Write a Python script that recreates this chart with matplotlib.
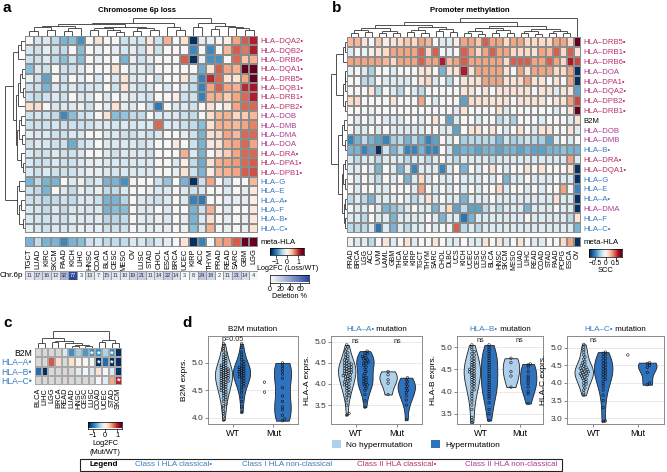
import numpy as np
import matplotlib
matplotlib.use('Agg')
import matplotlib.pyplot as plt
from matplotlib.colors import Normalize, LinearSegmentedColormap
from matplotlib.collections import LineCollection
from matplotlib.patches import Patch, Rectangle

plt.rcParams['font.family'] = ['Liberation Sans', 'DejaVu Sans']

# ---------------- DATA ----------------
# Panel a: Chromosome 6p loss, log2FC (Loss/WT)
cols_a = ["TGCT", "LUAD", "KIRC", "SKCM", "PAAD", "KICH", "LIHC", "HNSC", "COAD", "BLCA", "CESC",
          "MESO", "OV", "LUSC", "STAD", "CHOL", "ESCA", "BRCA", "UCEC", "KIRP", "ACC", "THYM",
          "PRAD", "READ", "SARC", "GBM", "LGG"]
rows_a = ["HLA–DQA2•", "HLA–DQB2•", "HLA–DRB6•", "HLA–DQA1•", "HLA–DRB5•", "HLA–DQB1•", "HLA–DRB1•",
          "HLA–DPB2•", "HLA–DOB", "HLA–DMB", "HLA–DMA", "HLA–DOA", "HLA–DRA•", "HLA–DPA1•", "HLA–DPB1•",
          "HLA–G", "HLA–E", "HLA–A•", "HLA–F", "HLA–B•", "HLA–C•"]
lfc_a = [
    [0, -0.25, -0.2, -0.35, -0.65, -0.6, -0.85, 0, 0.2, 0, 0, -0.3, -0.2, -0.25, 0.15, -0.3, 0.5, 0, 0.2, -1.45, -0.15, -0.1, 0, 0.1, 0.55, 0.85, 1.1],
    [-0.25, -0.3, -0.15, -0.3, -0.35, 0, -0.6, 0, -0.1, 0, -0.15, -0.25, -0.15, -0.3, 0.1, -0.3, 0, 0, 0, -0.9, 0, -0.9, 0, 0.45, 0.85, 0.75, 1.1],
    [-0.3, -0.3, -0.2, -0.35, -0.6, -0.3, -0.6, 0, -0.1, 0, 0, -0.65, -0.1, -0.3, -0.15, 0, 0, 0, 0.85, -1.45, -0.1, -0.85, -0.85, 0, 0.8, 0.4, 0.5],
    [-0.6, -0.2, -0.3, 0, -0.3, -0.3, -0.2, 0, 0, 0, 0.2, 0, -0.2, -0.15, -0.3, 0, 0, 0, 0, 0, -0.7, 0.2, 0.85, 0.55, 0.5, 1.4, 1.5],
    [-0.1, -0.3, -0.75, 0, -0.3, 0, -0.15, 0, -0.2, 0, -0.2, 0.2, -0.2, -0.15, 0, -0.3, 0, 0, 0.2, -0.3, -0.95, 1.05, 0.8, 0.2, 0.2, 0.55, 1.45],
    [-0.3, -0.3, -0.65, -0.2, -0.3, -0.2, -0.3, -0.25, -0.25, 0, -0.3, 0.2, -0.2, -0.3, -0.2, 0, -0.2, 0, -0.2, -0.35, -0.95, 0.55, 0.85, 0.55, 0.5, 1.05, 1.15],
    [-0.3, -0.35, -0.3, -0.2, -0.3, 0, -0.2, -0.2, 0, -0.2, 0, -0.1, -0.2, -0.2, -0.3, 0, 0, 0.1, -0.3, -0.3, -0.95, 0.5, 0.5, 0.35, 0.55, 0.8, 1.1],
    [0.25, 0.25, 0, -0.25, -0.2, -0.2, -0.1, -0.3, 0, -0.15, 0.2, -0.15, -0.2, 0, -0.3, -1.0, 0, -0.2, -0.2, -0.3, 0, 0.2, 0, 0.15, 0.55, 0.8, 0.8],
    [-0.3, -0.25, -0.3, -0.35, -0.9, -0.6, -0.3, -0.25, 0, 0.2, -0.6, -0.55, -0.35, -0.35, 0, -0.2, -0.2, -0.2, -0.3, -0.35, 0, 0.25, 0.45, 0.5, 0.3, 0.35, 0.45],
    [-0.3, -0.3, -0.3, -0.25, -0.3, -0.3, -0.3, -0.3, -0.2, -0.2, -0.25, -0.2, -0.25, -0.2, -0.2, 0.8, -0.2, -0.2, -0.3, -0.35, -0.6, 0.2, 0.5, 0.5, 0.45, 0.55, 0.7],
    [-0.15, -0.2, -0.2, -0.3, -0.3, -0.2, -0.2, 0, 0, -0.2, -0.2, -0.3, -0.3, -0.2, -0.3, -0.2, 0, 0, -0.15, -0.3, -0.65, 0.2, 0.3, 0.55, 0.45, 0.8, 0.8],
    [-0.3, -0.2, -0.25, -0.3, -0.3, -0.7, -0.3, -0.2, 0, -0.2, -0.2, -0.2, -0.2, -0.3, -0.2, 0, 0, 0.15, 0, -0.3, -0.65, 0.15, 0.2, 0.5, 0.55, 0.8, 0.55],
    [-0.2, -0.3, -0.3, -0.2, -0.3, -0.3, -0.2, 0, 0, -0.2, -0.3, -0.2, -0.2, -0.2, -0.3, 0, 0, 0, 0.5, -0.2, -0.65, 0, 0.2, 0.35, 0.55, 0.8, 0.8],
    [-0.2, -0.3, -0.3, -0.2, -0.3, -0.3, -0.2, -0.15, -0.1, -0.2, -0.2, -0.25, -0.2, -0.2, -0.2, 0, 0, -0.2, 0.1, -0.35, -0.7, 0.2, 0.5, 0.55, 0.6, 0.8, 0.85],
    [-0.2, -0.3, -0.2, -0.3, -0.3, -0.3, -0.2, -0.1, -0.1, -0.2, -0.25, -0.2, -0.2, -0.2, -0.2, 0, 0, -0.1, 0.2, -0.3, -0.65, 0.1, 0.45, 0.5, 0.55, 0.85, 0.9],
    [-0.65, -0.35, -0.65, -0.65, 0, -0.2, -0.1, -0.3, -0.2, -0.65, -0.65, -0.85, -0.05, 0, 0, -0.3, -0.55, 0, -0.65, -1.45, -0.3, 0.55, 0, -0.3, 0, 0, 0.45],
    [-0.3, -0.35, -0.65, 0, -0.2, -0.35, -0.1, -0.2, -0.1, -0.35, -0.35, -0.2, 0, 0, -0.1, -0.2, -0.2, 0, -0.2, -0.3, -0.2, 0, 0, -0.2, 0, -0.15, 0.15],
    [-0.3, -0.3, -0.4, -0.35, -0.3, -0.35, -0.2, -0.2, -0.3, -0.65, -0.65, -0.4, 0, -0.2, -0.25, -0.3, -0.2, 0, -0.2, -0.95, -1.0, 0, 0, -0.15, -0.15, -0.15, 0.1],
    [-0.2, -0.25, -0.35, -0.2, -0.35, -0.25, -0.2, -0.25, -0.2, -0.65, -0.6, -0.6, 0, -0.2, -0.2, 0, -0.2, 0, 0, -0.65, -0.3, 0.5, 0, -0.2, 0, 0, 0.15],
    [-0.2, -0.25, -0.3, -0.25, -0.3, -0.2, -0.2, -0.2, -0.15, -0.4, -0.4, -0.35, 0, -0.15, -0.2, -0.1, -0.2, 0, -0.15, -0.65, -0.2, 0.25, 0, -0.15, 0, -0.1, 0.15],
    [-0.15, -0.2, -0.3, -0.2, -0.25, -0.2, -0.1, -0.15, -0.1, -0.3, -0.3, -0.3, 0, -0.1, -0.15, -0.1, -0.15, 0, -0.1, -0.6, -0.2, 0.5, 0, -0.1, 0, -0.1, 0.2],
]
meta_a = [-0.65, -0.35, -0.65, -0.65, -0.9, -0.65, -0.6, -0.3, -0.25, -0.35, -0.35, -0.35, -0.2, -0.25,
          -0.35, -0.2, -0.15, 0, 0.2, -1.45, -0.95, 0, 0.55, 0.6, 0.85, 1.4, 1.45]
chr6p_del = [11, 17, 16, 12, 32, 77, 3, 13, 7, 15, 11, 10, 19, 21, 11, 14, 22, 14, 3, 8, 24, 18, 2, 11, 21, 14, 4]

# Panel b: promoter methylation, SCC
cols_b = ["PRAD", "BRCA", "LGG", "ACC", "UVM", "LAML", "GBM", "THCA", "KIRC", "KIRP", "TGCT", "THYM",
          "SARC", "CHOL", "DLBC", "UCS", "KICH", "UCEC", "CESC", "LUSC", "BLCA", "HNSC", "SKCM", "MESO",
          "LUAD", "LIHC", "READ", "COAD", "STAD", "PAAD", "PCPG", "ESCA", "OV"]
rows_b = ["HLA–DRB5•", "HLA–DRB1•", "HLA–DRB6•", "HLA–DOA", "HLA–DPA1•", "HLA–DQA2•", "HLA–DPB2•",
          "HLA–DRB1•", "B2M", "HLA–DOB", "HLA–DMB", "HLA–B•", "HLA–DRA•", "HLA–DQA1•", "HLA–G", "HLA–E",
          "HLA–A•", "HLA–DMA", "HLA–F", "HLA–C•"]
scc_b = [
    [0.25, 0.25, 0.1, 0, 0.2, 0.05, 0.1, 0.15, 0.2, 0.15, 0.3, 0.25, 0, -0.1, -0.1, 0.05, 0.3, 0.3, 0.2, 0.45, 0.3, 0.3, 0.15, 0.3, 0.3, 0.15, 0.15, 0.15, 0.15, 0.3, 0.3, 0.15, 0.75],
    [-0.1, 0, -0.05, 0.05, 0.1, 0.15, 0.3, 0.3, 0.3, 0.3, 0.45, 0.15, 0.45, 0, -0.05, 0, 0.45, 0.3, 0.15, 0.3, 0.45, 0.3, 0.3, 0.15, 0.15, 0.15, 0.1, 0.3, 0.25, 0.45, 0.15, 0.45, 0.1],
    [0.3, 0.3, 0.3, 0.3, 0.3, 0.25, 0.15, 0.3, 0.3, 0.3, 0.45, 0.3, 0.3, 0.6, 0.25, 0.3, 0.45, 0.3, 0.3, 0.3, 0.3, 0.3, 0.15, 0.45, 0.45, 0.45, 0.3, 0.3, 0.45, 0.3, 0.15, 0.6, 0.5],
    [-0.05, 0, -0.1, -0.25, 0, 0, -0.1, 0, 0, 0, 0.1, 0.1, 0, -0.35, 0.1, 0.1, 0.6, 0.1, 0.3, 0.3, 0.3, 0.3, 0.1, 0, 0.3, 0.1, 0.3, 0.3, 0.3, 0.15, 0.15, 0.3, -0.75],
    [0, 0, -0.2, -0.2, 0, -0.1, -0.1, -0.1, -0.1, 0, 0.1, 0.15, -0.1, 0, -0.2, 0, 0.1, 0.1, 0.1, 0.3, 0.3, 0.3, 0.1, 0.1, 0.15, 0.3, 0.1, 0.1, 0, 0.1, 0, 0.3, -0.75],
    [0, 0, 0, 0.1, -0.2, 0, -0.1, -0.2, 0, -0.1, -0.2, 0, 0, 0, 0, 0, 0.1, 0.1, 0, 0.1, 0, 0.1, 0.1, 0.1, 0.1, 0.1, 0, 0.1, 0.1, -0.1, 0.1, 0.1, -0.4],
    [0.15, 0.15, 0, 0, 0, 0, 0.1, 0, 0, 0, 0.3, 0, -0.1, 0, 0, 0, -0.4, 0.15, 0.1, 0.1, 0.1, 0.1, 0.1, 0, 0.1, 0.1, 0.1, 0.1, 0, 0.1, 0.1, 0.3, 0.5],
    [0, 0, 0, -0.05, 0, 0, 0, 0, 0, 0, 0, 0, 0, 0, 0, -0.1, 0.1, 0, 0, 0, 0, 0.1, -0.1, 0, 0, 0, 0, 0, 0, -0.1, 0, 0.1, 0.75],
    [0, -0.1, 0, -0.1, 0, -0.1, -0.1, -0.1, 0, 0, -0.1, 0, 0.1, 0, -0.4, -0.1, 0, 0, -0.1, 0, 0, -0.2, -0.1, -0.25, 0, 0, 0, -0.1, 0, 0, 0, -0.1, 0.1],
    [0, -0.1, -0.1, 0, -0.1, 0, -0.1, -0.1, -0.1, -0.1, -0.1, 0, 0, -0.1, -0.1, -0.4, 0, 0.1, 0.1, 0, 0.1, 0, -0.1, 0, 0.1, 0, -0.1, 0.1, 0.1, 0, 0, 0.1, -0.1],
    [-0.5, -0.35, -0.2, -0.35, -0.4, -0.5, -0.25, -0.2, -0.35, -0.2, -0.35, -0.5, -0.4, 0, -0.1, 0, -0.25, -0.2, -0.2, -0.2, -0.2, -0.35, -0.15, -0.25, -0.2, -0.15, -0.2, -0.25, -0.4, -0.1, 0, -0.1, 0],
    [-0.35, -0.35, -0.5, -0.4, -0.75, -0.15, -0.35, -0.2, -0.5, -0.5, -0.35, -0.5, -0.5, 0, -0.15, -0.4, -0.35, -0.35, -0.4, -0.35, -0.35, -0.4, -0.35, -0.35, -0.4, -0.35, -0.4, -0.4, -0.35, -0.35, -0.3, -0.35, -0.35],
    [-0.1, -0.2, -0.1, -0.1, -0.2, -0.1, -0.1, -0.1, -0.2, -0.1, -0.1, -0.2, -0.1, 0, -0.1, -0.2, -0.1, -0.1, -0.1, -0.1, -0.2, -0.1, -0.1, -0.1, -0.1, -0.1, -0.1, -0.1, -0.1, -0.1, -0.1, 0.3, -0.1],
    [-0.1, -0.1, 0, -0.1, -0.35, 0, -0.1, -0.35, -0.1, -0.5, -0.1, -0.1, -0.1, -0.5, -0.1, 0, -0.35, 0, -0.1, 0, 0.1, 0, -0.1, 0, 0, 0.1, 0, 0.1, 0, 0, 0, 0.1, -0.75],
    [0, -0.1, 0, -0.1, -0.2, 0, -0.1, 0, -0.35, -0.1, 0.15, -0.1, 0, -0.1, -0.1, 0, -0.1, -0.1, -0.1, 0, -0.1, 0, -0.35, -0.1, -0.1, 0, -0.1, -0.1, -0.1, 0, -0.1, -0.1, -0.75],
    [0, -0.1, 0, 0, -0.1, -0.1, 0, 0, 0, -0.1, 0.3, 0, -0.1, 0, -0.1, 0, -0.1, 0, -0.1, 0, 0, 0.15, -0.1, 0, 0, -0.1, 0, -0.1, 0, 0, 0.3, 0, -0.5],
    [-0.2, -0.1, -0.2, -0.35, -0.1, -0.1, -0.1, 0, -0.1, -0.2, -0.1, 0.1, -0.1, 0, -0.1, -0.1, -0.35, -0.1, -0.1, -0.1, 0, -0.1, -0.1, -0.1, -0.1, -0.1, -0.1, -0.1, -0.1, 0.1, -0.1, -0.1, -0.75],
    [0, -0.1, -0.1, 0, -0.1, -0.35, -0.3, -0.2, -0.1, 0, -0.1, -0.1, -0.35, -0.1, 0.15, -0.4, -0.2, -0.4, -0.4, -0.2, -0.1, -0.2, -0.1, -0.1, -0.1, -0.35, -0.1, -0.1, -0.1, 0, -0.1, -0.1, -0.75],
    [-0.1, -0.1, -0.2, 0, -0.1, -0.1, -0.35, -0.1, -0.1, -0.1, -0.1, 0, -0.1, -0.35, -0.1, -0.1, -0.55, -0.35, -0.1, -0.1, -0.1, -0.1, -0.1, -0.1, -0.1, 0, -0.1, -0.1, -0.1, -0.1, -0.1, -0.2, 0.1],
    [-0.2, -0.2, -0.2, -0.1, -0.55, -0.1, -0.35, -0.1, -0.2, -0.1, -0.1, 0, -0.1, 0, 0, 0.45, -0.2, -0.1, -0.2, -0.1, -0.1, -0.1, -0.1, -0.1, -0.1, -0.1, -0.1, -0.1, -0.1, -0.1, -0.1, -0.1, -0.35],
]
meta_b = [0.05, -0.1, -0.1, -0.2, 0, 0.1, -0.1, 0, 0.1, -0.1, 0, 0, 0.1, 0, -0.1, -0.1, 0, -0.1, -0.1, 0.1,
          0, 0.1, -0.1, 0, 0.1, 0, -0.1, -0.1, 0, 0, 0.15, 0.3, -0.75]

# Panel c: mutation log2FC (Mut/WT)
cols_c = ["BLCA", "LIHC", "LGG", "BRCA", "READ", "LUAD", "HNSC", "CESC", "LUSC", "COAD", "UCEC", "STAD", "SKCM"]
rows_c = ["B2M", "HLA–A•", "HLA–B•", "HLA–C•"]
nan = float('nan')
lfc_c = [
    [nan, nan, nan, nan, -0.2, -0.8, -0.45, -0.75, -0.8, -0.8, -0.4, -0.8, -1.3],
    [nan, nan, 0.8, 0.25, nan, 0.2, 0.05, 0, -0.05, -1.3, -1.0, -1.3, -1.3],
    [-1.0, -1.3, nan, nan, nan, nan, -0.15, 0, -0.2, 0.2, 0, -0.2, -1.3],
    [nan, nan, nan, nan, nan, nan, nan, nan, nan, 0, -0.15, 0.5, 1.0],
]
sig_c = [(0, 8), (0, 9), (0, 11), (1, 9), (1, 11), (3, 12)]  # (row, col) with *

# Dendrograms (nested [left, right, height]; leaves = display index)
tree_a_cols = [[[[[[0, 1, 0.25], [2, 3, 0.3], 0.45], [[4, 5, 0.25], 6, 0.4], 0.55],
                 [[[7, 8, 0.3], [9, [10, 11, 0.2], 0.3], 0.4], [[12, 13, 0.25], [14, 15, 0.3], 0.4], 0.5], 0.65],
                [16, [17, 18, 0.3], 0.5], 0.72],
               [[19, 20, 0.5], [[21, 22, 0.35], [23, [24, [25, 26, 0.3], 0.4], 0.45], 0.55], 0.72], 1.0]
tree_a_rows = [[[[0, 1, 0.2], 2, 0.35],
                [[[[3, 4, 0.15], [5, 6, 0.12], 0.25], 7, 0.35],
                 [[[8, 9, 0.2], [10, 11, 0.15], 0.3], [12, [13, 14, 0.1], 0.2], 0.38], 0.45], 0.6],
               [[15, 16, 0.3], [[17, 18, 0.2], [19, 20, 0.12], 0.28], 0.4], 1.0]
tree_b_cols = [[[[[[0, 1, 0.2], [2, 3, 0.25], 0.35], [[4, 5, 0.2], [6, 7, 0.2], 0.3], 0.45],
                 [[[8, 9, 0.25], [10, 11, 0.2], 0.35], [[12, 13, 0.3], [14, 15, 0.25], 0.4], 0.5], 0.6],
                [[[[16, 17, 0.2], [18, 19, 0.15], 0.3], [[20, 21, 0.2], [22, 23, 0.2], 0.35], 0.45],
                 [[[24, 25, 0.2], [26, 27, 0.15], 0.3], [[28, 29, 0.2], [30, 31, 0.2], 0.3], 0.4], 0.55], 0.75],
               32, 1.0]
tree_b_rows = [[[[0, 1, 0.15], 2, 0.25], [[[3, 4, 0.1], 5, 0.15], [6, 7, 0.12], 0.25], 0.7],
               [[[8, 9, 0.2], [10, 11, 0.15], 0.3],
                [[[12, 13, 0.15], [14, 15, 0.12], 0.25], [[16, 17, 0.15], [18, 19, 0.12], 0.22], 0.35], 0.6], 1.0]
tree_c_cols = [[[0, 1, 0.3], [[2, 3, 0.35], [4, [[5, 6, 0.1], [7, 8, 0.12], 0.15], 0.25], 0.4], 0.6],
               [[9, 10, 0.35], [11, 12, 0.3], 0.45], 1.0]

# Panel d: expression values (log10) per group
b2m_wt_nohyp = [3.96, 4.02, 4.08, 4.12, 4.18, 4.22, 4.25, 4.3, 4.33, 4.36, 4.38, 4.41, 4.43, 4.45, 4.47, 4.49,
                4.5, 4.52, 4.54, 4.55, 4.57, 4.58, 4.6, 4.61, 4.62, 4.64, 4.65, 4.66, 4.67, 4.68, 4.7, 4.71,
                4.72, 4.73, 4.74, 4.75, 4.76, 4.77, 4.78, 4.79, 4.8, 4.81, 4.82, 4.83, 4.84, 4.85, 4.86, 4.87,
                4.88, 4.89, 4.9, 4.91, 4.92, 4.94, 4.95, 4.96, 4.98, 5.0, 5.02, 5.04, 5.06, 5.08, 5.1, 5.12,
                5.15, 5.18, 5.22, 5.26, 5.3, 5.35]
b2m_wt_hyp = [4.1, 4.2, 4.3, 4.38, 4.45, 4.5, 4.55, 4.58, 4.6, 4.63, 4.65, 4.67, 4.7, 4.72, 4.74, 4.75, 4.77,
              4.78, 4.8, 4.81, 4.82, 4.84, 4.85, 4.86, 4.88, 4.89, 4.9, 4.92, 4.93, 4.95, 4.97, 5.0, 5.03,
              5.06, 5.1, 5.15, 5.2, 5.28, 5.35]
b2m_mut_nohyp = [4.47, 4.65]
b2m_mut_hyp = [3.95, 3.98, 4.05, 4.15, 4.2, 4.3, 4.4, 4.55, 4.72, 4.8, 4.85, 4.9, 4.95, 5.0]

a_wt_nohyp = [3.26, 3.3, 3.5, 3.6, 3.68, 3.72, 3.76, 3.8, 3.84, 3.87, 3.9, 3.93, 3.96, 3.98, 4.0, 4.02, 4.05,
              4.07, 4.09, 4.11, 4.13, 4.15, 4.17, 4.19, 4.2, 4.22, 4.24, 4.25, 4.27, 4.28, 4.3, 4.31, 4.33,
              4.34, 4.36, 4.37, 4.39, 4.4, 4.42, 4.44, 4.45, 4.47, 4.49, 4.5, 4.52, 4.55, 4.57, 4.6, 4.63,
              4.66, 4.7, 4.74, 4.78, 4.83, 4.88, 4.93]
a_wt_hyp = [3.45, 3.6, 3.75, 3.85, 3.9, 3.95, 3.98, 4.0, 4.03, 4.06, 4.1, 4.13, 4.16, 4.2, 4.25, 4.3, 4.35,
            4.4, 4.44, 4.48, 4.5, 4.52, 4.55, 4.57, 4.6, 4.62, 4.65, 4.68, 4.72, 4.75, 4.78]
a_mut_nohyp = [3.75, 4.02, 4.1, 4.22, 4.3]
a_mut_hyp = [3.15, 3.5, 3.62, 3.72, 3.8, 3.85, 3.9, 3.95, 4.0, 4.05, 4.1, 4.15]

hb_wt_nohyp = [3.3, 3.35, 3.42, 3.6, 3.7, 3.78, 3.84, 3.9, 3.95, 4.0, 4.04, 4.08, 4.12, 4.15, 4.18, 4.21,
               4.24, 4.27, 4.3, 4.32, 4.35, 4.37, 4.4, 4.42, 4.44, 4.46, 4.48, 4.5, 4.52, 4.55, 4.57, 4.6,
               4.62, 4.65, 4.68, 4.71, 4.74, 4.78, 4.82, 4.86, 4.9, 4.95, 5.0, 5.05]
hb_wt_hyp = [3.35, 3.5, 3.6, 3.75, 3.85, 3.9, 3.95, 4.0, 4.05, 4.1, 4.15, 4.2, 4.25, 4.3, 4.35, 4.4, 4.45,
             4.5, 4.55, 4.6, 4.65, 4.7, 4.75, 4.8, 4.85, 4.9, 4.95, 5.0, 5.05]
hb_mut_nohyp = [4.1, 4.35, 4.45, 4.65, 4.75]
hb_mut_hyp = [3.73, 3.95, 4.0, 4.1, 4.18, 4.25, 4.3, 4.35, 4.45, 4.55, 4.6, 4.62]

hc_wt_nohyp = [3.65, 3.72, 3.8, 3.86, 3.92, 3.97, 4.0, 4.04, 4.08, 4.11, 4.14, 4.17, 4.2, 4.22, 4.24, 4.26,
               4.28, 4.3, 4.32, 4.34, 4.36, 4.38, 4.4, 4.42, 4.45, 4.48, 4.5, 4.54, 4.58, 4.62, 4.68, 4.74,
               4.8, 4.88, 4.95, 5.02, 5.1]
hc_wt_hyp = [2.9, 2.92, 3.3, 3.5, 3.65, 3.8, 3.9, 3.98, 4.05, 4.1, 4.15, 4.2, 4.24, 4.28, 4.32, 4.36, 4.4,
             4.44, 4.48, 4.52, 4.56, 4.6, 4.65, 4.7, 4.75, 4.8, 4.85, 4.88]
hc_mut_nohyp = [4.8]
hc_mut_hyp = [3.95, 4.0, 4.3, 4.45, 4.5, 4.55, 4.58]

groups_x = ["WT", "Mut"]

for M, n in ((lfc_a, len(cols_a)), (scc_b, len(cols_b)), (lfc_c, len(cols_c))):
    for r in M:
        assert len(r) == n, (len(r), n)
assert len(lfc_a) == len(rows_a) and len(scc_b) == len(rows_b)

# ---------------- STYLE / HELPERS ----------------
W, H = 667, 472
fig = plt.figure(figsize=(W / 100, H / 100), dpi=100)

C1 = '#3A7DC2'
C2 = '#B8336A'
C2N = '#AD3A93'
LIGHT = '#AFD0EA'
DARK = '#2F72BE'
EDGE = '#8c8c8c'


def rect(x0, y0, x1, y1):
    return [x0 / W, 1 - y1 / H, (x1 - x0) / W, (y1 - y0) / H]


def label_color(name):
    if name in ('B2M', 'meta-HLA'):
        return 'black'
    base = name.replace('HLA–', '').rstrip('•')
    if base in ('A', 'B', 'C', 'E', 'F', 'G'):
        return C1
    return C2 if name.endswith('•') else C2N


def heat(box, M, cmap, norm, edge=EDGE, lw=0.35):
    ax = fig.add_axes(rect(*box))
    A = np.ma.masked_invalid(np.array(M, dtype=float))
    ax.pcolormesh(A, cmap=cmap, norm=norm, edgecolors=edge, linewidth=lw)
    ax.set_xlim(0, A.shape[1])
    ax.set_ylim(A.shape[0], 0)
    for s in ax.spines.values():
        s.set_visible(False)
    ax.set_xticks([])
    ax.set_yticks([])
    return ax


def right_labels(ax, labels, fs):
    ax.yaxis.tick_right()
    ax.set_yticks(np.arange(len(labels)) + 0.5)
    ax.set_yticklabels(labels, fontsize=fs)
    ax.tick_params(axis='y', length=0, pad=2)
    for t, l in zip(ax.get_yticklabels(), labels):
        t.set_color(label_color(l))


def bottom_labels(ax, labels, fs, pad=1.5):
    ax.set_xticks(np.arange(len(labels)) + 0.5)
    ax.set_xticklabels(labels, fontsize=fs, rotation=90)
    ax.tick_params(axis='x', length=0, pad=pad)


def dendro_segments(node):
    if isinstance(node, int):
        return node + 0.5, 0.0, []
    l, r, h = node
    xl, hl, sl = dendro_segments(l)
    xr, hr, sr = dendro_segments(r)
    segs = sl + sr + [[(xl, hl), (xl, h)], [(xl, h), (xr, h)], [(xr, h), (xr, hr)]]
    return (xl + xr) / 2, h, segs


def dendro(box, tree, n, orient):
    ax = fig.add_axes(rect(*box))
    _, top, segs = dendro_segments(tree)
    if orient == 'top':
        ax.add_collection(LineCollection(segs, colors='#333333', linewidths=0.6))
        ax.set_xlim(0, n)
        ax.set_ylim(0, top * 1.03)
    else:
        segs = [[(h, x) for x, h in s] for s in segs]
        ax.add_collection(LineCollection(segs, colors='#333333', linewidths=0.6))
        ax.set_ylim(n, 0)
        ax.set_xlim(top * 1.03, 0)
    ax.axis('off')
    return ax


def cbar(box, cmap, norm, lo, hi, ticks, labels, fs=5.0):
    ax = fig.add_axes(rect(*box))
    grad = np.linspace(lo, hi, 256)[None, :]
    ax.imshow(grad, extent=[lo, hi, 0, 1], aspect='auto', cmap=cmap, norm=norm)
    ax.set_xlim(lo, hi)
    ax.set_yticks([])
    ax.set_xticks(ticks)
    ax.set_xticklabels(labels, fontsize=fs)
    ax.tick_params(axis='x', length=1.8, width=0.5, pad=0.8)
    for s in ax.spines.values():
        s.set_linewidth(0.5)
    return ax


cmap = plt.get_cmap('RdBu_r').copy()
cmap.set_bad('#D9D9D9')
norm_a = Normalize(-1.4, 1.4)
norm_b = Normalize(-0.75, 0.75)
norm_c = Normalize(-1.3, 1.3)
del_cmap = LinearSegmentedColormap.from_list('del', ['#FFFFFF', '#2A48A0'])
norm_del = Normalize(0, 77)

# ---------------- PANEL A ----------------
fig.text(3 / W, 1 - 12 / H, 'a', fontsize=11, fontweight='bold')
fig.text(137 / W, 1 - 10 / H, 'Chromosome 6p loss', fontsize=5.6, fontweight='bold', ha='center', va='center')
dendro((25, 17, 258, 35.5), tree_a_cols, len(cols_a), 'top')
dendro((4, 36, 25, 233), tree_a_rows, len(rows_a), 'left')
ax = heat((25, 36, 258, 233), lfc_a, cmap, norm_a)
right_labels(ax, rows_a, 5.6)
ax = heat((25, 237, 258, 246.5), [meta_a], cmap, norm_a)
right_labels(ax, ['meta-HLA'], 5.6)
bottom_labels(ax, cols_a, 5.4)
ax = heat((25, 271, 258, 280), [chr6p_del], del_cmap, norm_del, edge='#9a9a9a', lw=0.4)
for i, v in enumerate(chr6p_del):
    ax.text(i + 0.5, 0.55, str(v), ha='center', va='center', fontsize=4.0,
            color='white' if v > 50 else '#333333')
fig.text(23 / W, 1 - 275.5 / H, 'Chr.6p', fontsize=5.8, ha='right', va='center')
cbar((270, 247.5, 304, 255), cmap, norm_a, -1.55, 1.55, [-1, 0, 1], ['−1', '0', '1'])
fig.text(288 / W, 1 - 268.5 / H, 'Log2FC (Loss/WT)', fontsize=5.2, ha='center', va='center')
cbar((270, 274.5, 309, 282.5), del_cmap, norm_del, 0, 77, [0, 20, 40, 60], ['0', '20', '40', '60'])
fig.text(289 / W, 1 - 297 / H, 'Deletion %', fontsize=5.2, ha='center', va='center')

# ---------------- PANEL B ----------------
fig.text(332 / W, 1 - 12 / H, 'b', fontsize=11, fontweight='bold')
fig.text(470 / W, 1 - 10 / H, 'Promoter methylation', fontsize=5.6, fontweight='bold', ha='center', va='center')
dendro((347, 17, 581, 36.5), tree_b_cols, len(cols_b), 'top')
dendro((331, 37, 347, 233), tree_b_rows, len(rows_b), 'left')
ax = heat((347, 37, 581, 233), scc_b, cmap, norm_b)
right_labels(ax, rows_b, 5.6)
ax = heat((347, 237, 581, 246.5), [meta_b], cmap, norm_b)
right_labels(ax, ['meta-HLA'], 5.6)
bottom_labels(ax, cols_b, 5.0)
cbar((589, 249, 622, 256.5), cmap, norm_b, -0.8, 0.8, [-0.5, 0, 0.5], ['−0.5', '0', '0.5'], fs=4.8)
fig.text(605 / W, 1 - 270 / H, 'SCC', fontsize=5.4, ha='center', va='center')

# ---------------- PANEL C ----------------
fig.text(3 / W, 1 - 327 / H, 'c', fontsize=11, fontweight='bold')
dendro((35, 331, 122, 347.5), tree_c_cols, len(cols_c), 'top')
ax = heat((35, 348, 122, 385), lfc_c, cmap, norm_c, edge='#a8a8a8', lw=0.35)
ax.set_yticks(np.arange(len(rows_c)) + 0.5)
ax.set_yticklabels(rows_c, fontsize=6.2)
ax.tick_params(axis='y', length=0, pad=2)
for t, l in zip(ax.get_yticklabels(), rows_c):
    t.set_color(label_color(l))
bottom_labels(ax, cols_c, 5.3, pad=2)
for r, c in sig_c:
    ax.text(c + 0.5, r + 0.62, '*', ha='center', va='center', fontsize=6.5, color='white', fontweight='bold')
cbar((88, 422, 122, 428.5), cmap, norm_c, -1.4, 1.4, [-1, 0, 1], ['−1', '0', '1'], fs=5.2)
fig.text(105 / W, 1 - 443.5 / H, 'Log2FC', fontsize=5.3, ha='center', va='center')
fig.text(105 / W, 1 - 452 / H, '(Mut/WT)', fontsize=5.3, ha='center', va='center')

# ---------------- PANEL D ----------------
fig.text(182 / W, 1 - 327 / H, 'd', fontsize=11, fontweight='bold')
title_groups = []


def swarm_offsets(vals, sx, sy, d=2.3):
    vals = np.asarray(vals, dtype=float)
    order = np.argsort(vals)
    placed = []
    offs = np.zeros(len(vals))
    for i in order:
        yp = vals[i] * sy
        k = 0
        found = None
        while found is None:
            cands = [0.0] if k == 0 else [k * d * 0.5, -k * d * 0.5]
            for cnd in cands:
                if all((cnd - px) ** 2 + (yp - py) ** 2 >= d * d * 0.85 for px, py in placed):
                    found = cnd
                    break
            k += 1
        placed.append((found, yp))
        offs[i] = found / sx
    return offs


def violin_panel(box, data, ylim, yticks, ylabel, title, annots):
    x0, y0, x1, y1 = box
    ax = fig.add_axes(rect(*box))
    pos = [1 - 0.22, 1 + 0.22, 2 - 0.22, 2 + 0.22]
    colors = [LIGHT, DARK, LIGHT, DARK]
    ax.set_xlim(0.4, 2.6)
    ax.set_ylim(*ylim)
    ax.set_axisbelow(True)
    ax.yaxis.grid(True, color='#E6E6E6', lw=0.6)
    sx = (x1 - x0) / 2.2
    sy = (y1 - y0) / (ylim[1] - ylim[0])
    for vals, p, col in zip(data, pos, colors):
        if len(vals) >= 3:
            vp = ax.violinplot([vals], positions=[p], widths=0.42, showextrema=False)
            for b in vp['bodies']:
                b.set_facecolor(col)
                b.set_edgecolor('#222222')
                b.set_linewidth(0.6)
                b.set_alpha(1)
        offs = swarm_offsets(vals, sx, sy)
        ax.scatter(p + offs, vals, s=3.2, facecolors='none', edgecolors='#111111', linewidths=0.4, zorder=3)
    ax.set_xticks([1, 2])
    ax.set_xticklabels(groups_x, fontsize=6.5)
    ax.set_yticks(yticks)
    ax.set_yticklabels(['%.1f' % v for v in yticks], fontsize=6, color='#333333')
    ax.tick_params(length=2, width=0.5, color='#555555', pad=1.5)
    ax.set_ylabel(ylabel, fontsize=6, labelpad=2)
    for s in ax.spines.values():
        s.set_color('#8a8a8a')
        s.set_linewidth(0.7)
    for xv, yv, s in annots:
        ax.text(xv, yv, s, ha='center', va='center', fontsize=5.2, color='#222222')
    arts = [fig.text(0, 1 - 331 / H, t, color=c, fontsize=5.8, ha='left', va='baseline') for t, c in title]
    title_groups.append(((x0 + x1) / 2, arts))
    return ax


violin_panel((208, 336, 298, 424), [b2m_wt_nohyp, b2m_wt_hyp, b2m_mut_nohyp, b2m_mut_hyp],
             (3.89, 5.49), [4.0, 4.5, 5.0], 'B2M exprs.', [('B2M mutation', 'black')], [(1, 5.43, 'p=0.05')])
violin_panel((331, 336, 422, 424), [a_wt_nohyp, a_wt_hyp, a_mut_nohyp, a_mut_hyp],
             (3.05, 5.14), [3.5, 4.0, 4.5, 5.0], 'HLA-A exprs.', [('HLA–A•', C1), (' mutation', 'black')],
             [(1, 5.02, 'ns'), (2, 5.02, 'ns')])
violin_panel((457, 336, 543, 424), [hb_wt_nohyp, hb_wt_hyp, hb_mut_nohyp, hb_mut_hyp],
             (3.27, 5.25), [3.5, 4.0, 4.5, 5.0], 'HLA-B exprs.', [('HLA–B•', C1), (' mutation', 'black')],
             [(1, 5.14, 'ns'), (2, 5.14, 'ns')])
violin_panel((567, 336, 664, 424), [hc_wt_nohyp, hc_wt_hyp, hc_mut_nohyp, hc_mut_hyp],
             (2.83, 5.34), [3.0, 3.5, 4.0, 4.5, 5.0], 'HLA-C exprs.', [('HLA–C•', C1), (' mutation', 'black')],
             [(1, 5.2, 'ns')])

fig.legend(handles=[Patch(facecolor=LIGHT, edgecolor='none', label='No hypermutation'),
                    Patch(facecolor=DARK, edgecolor='none', label='Hypermutation')],
           loc='center', bbox_to_anchor=(416 / W, 1 - 444.5 / H), ncol=2, frameon=False, fontsize=6,
           handlelength=1.1, handleheight=1.1, columnspacing=2.2, handletextpad=0.6)

# ---------------- BOTTOM LEGEND ----------------
fig.add_artist(Rectangle((80 / W, 1 - 471 / H), (562 - 80) / W, 12.5 / H, transform=fig.transFigure,
                         facecolor='white', edgecolor='#222222', linewidth=0.8))
legend_items = [("Legend", 'black', 90, 'bold'), ("Class I HLA classical•", C1, 135, 'normal'),
                ("Class I HLA non-classical", C1, 242, 'normal'), ("Class II HLA classical•", C2, 357, 'normal'),
                ("Class II HLA non-classical", C2N, 465, 'normal')]
for txt, col, xp, fw in legend_items:
    fig.text(xp / W, 1 - 465 / H, txt, color=col, fontsize=5.8, fontweight=fw, ha='left', va='center')

# center the multi-colour titles
fig.canvas.draw()
rend = fig.canvas.get_renderer()
for cx, arts in title_groups:
    widths = [a.get_window_extent(rend).width for a in arts]
    x = cx - sum(widths) / 2
    for a, w in zip(arts, widths):
        a.set_x(x / W)
        x += w

fig.savefig('out.png', dpi=100)
